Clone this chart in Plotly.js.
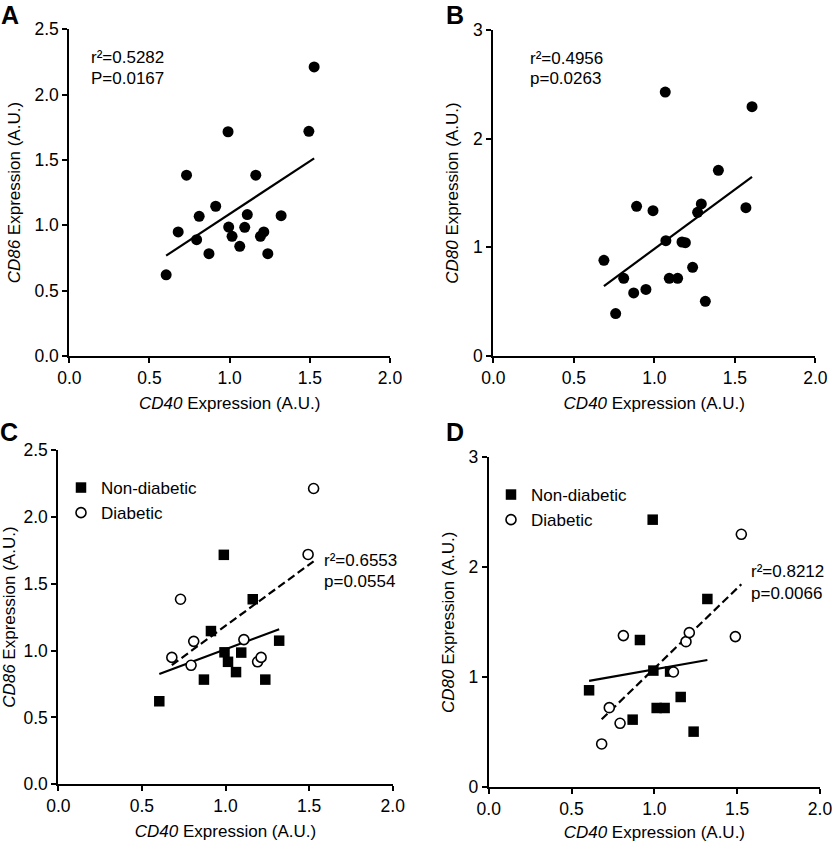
<!DOCTYPE html>
<html>
<head>
<meta charset="utf-8">
<script src="https://cdn.plot.ly/plotly-3.0.1.min.js"></script>
<style>
html,body{margin:0;padding:0;background:#fff;}
#chart{width:832px;height:842px;}
</style>
</head>
<body>
<div id="chart"></div>
<script>
// ---------- data ----------
// Panels A / C : CD40 vs CD86
const nonDiabCD40 = [0.604, 0.871, 0.913, 0.990, 0.994, 1.015, 1.063, 1.094, 1.163, 1.238, 1.321];
const nonDiabCD86 = [0.621, 0.783, 1.146, 1.716, 0.987, 0.916, 0.839, 0.985, 1.384, 0.783, 1.074];
const diabCD40    = [0.679, 0.731, 0.794, 0.810, 1.110, 1.192, 1.213, 1.494, 1.527];
const diabCD86    = [0.949, 1.384, 0.890, 1.069, 1.082, 0.916, 0.949, 1.719, 2.212];

// Panel B : CD40 vs CD80 (all samples, as drawn)
const allCD40_B = [0.687, 0.760, 0.810, 0.872, 0.890, 0.948, 0.992, 1.068, 1.072, 1.093,
                   1.145, 1.172, 1.193, 1.238, 1.269, 1.292, 1.317, 1.398, 1.569, 1.607];
const allCD80_B = [0.880, 0.390, 0.715, 0.580, 1.377, 0.613, 1.337, 2.429, 1.061, 0.715,
                   0.715, 1.049, 1.043, 0.816, 1.322, 1.399, 0.503, 1.709, 1.365, 2.294];

// Panel D : CD40 vs CD80 by group
const nonDiabCD40_D = [0.606, 0.869, 0.913, 0.990, 0.994, 1.014, 1.062, 1.095, 1.159, 1.237, 1.320];
const nonDiabCD80_D = [0.882, 0.615, 1.339, 2.433, 1.061, 0.721, 0.721, 1.052, 0.821, 0.506, 1.712];
const diabCD40_D    = [0.682, 0.728, 0.793, 0.813, 1.115, 1.191, 1.211, 1.489, 1.525];
const diabCD80_D    = [0.394, 0.724, 0.582, 1.379, 1.048, 1.324, 1.406, 1.370, 2.300];

// statistics text
const statsA = ['0.5282', '0.0167'];
const statsB = ['0.4956', '0.0263'];
const statsC = ['0.6553', '0.0554'];
const statsD = ['0.8212', '0.0066'];

const groupNames = ['Non-diabetic', 'Diabetic'];
const xTickVals = [0, 0.5, 1.0, 1.5, 2.0];
const yTickVals86 = [0, 0.5, 1.0, 1.5, 2.0, 2.5];
const yTickVals80 = [0, 1, 2, 3];

// ---------- helpers ----------
const W = 832, H = 842;
const fx = p => p / W;
const fy = p => 1 - p / H;
const FONT = 'Liberation Sans, Arial, Helvetica, sans-serif';

function fitLine(xs, ys) {
  const n = xs.length;
  const mx = xs.reduce((a, b) => a + b, 0) / n;
  const my = ys.reduce((a, b) => a + b, 0) / n;
  let sxy = 0, sxx = 0;
  for (let i = 0; i < n; i++) { sxy += (xs[i] - mx) * (ys[i] - my); sxx += (xs[i] - mx) ** 2; }
  const b = sxy / sxx, a = my - b * mx;
  const x0 = Math.min(...xs), x1 = Math.max(...xs);
  return { x: [x0, x1], y: [a + b * x0, a + b * x1] };
}

const filledDot = { symbol: 'circle', size: 11, color: '#000' };
const filledSq  = { symbol: 'square', size: 10.5, color: '#000' };
const openDot   = { symbol: 'circle', size: 10, color: '#fff', line: { color: '#000', width: 1.6 } };

const traces = [];
function addLine(fit, xa, ya, dash) {
  traces.push({ type: 'scatter', mode: 'lines', x: fit.x, y: fit.y, xaxis: xa, yaxis: ya,
    line: { color: '#000', width: 2.2, dash: dash || 'solid' }, showlegend: false, hoverinfo: 'skip' });
}

// Panel A
const allCD40_A = nonDiabCD40.concat(diabCD40);
const allCD86_A = nonDiabCD86.concat(diabCD86);
addLine(fitLine(allCD40_A, allCD86_A), 'x', 'y');
traces.push({ type: 'scatter', mode: 'markers', x: allCD40_A, y: allCD86_A, xaxis: 'x', yaxis: 'y',
  marker: filledDot, showlegend: false, cliponaxis: false });

// Panel B
addLine(fitLine(allCD40_B, allCD80_B), 'x2', 'y2');
traces.push({ type: 'scatter', mode: 'markers', x: allCD40_B, y: allCD80_B, xaxis: 'x2', yaxis: 'y2',
  marker: filledDot, showlegend: false, cliponaxis: false });

// Panel C
addLine(fitLine(nonDiabCD40, nonDiabCD86), 'x3', 'y3');
addLine(fitLine(diabCD40, diabCD86), 'x3', 'y3', '8px,4px');
traces.push({ type: 'scatter', mode: 'markers', name: groupNames[0], x: nonDiabCD40, y: nonDiabCD86,
  xaxis: 'x3', yaxis: 'y3', marker: filledSq, legend: 'legend', cliponaxis: false });
traces.push({ type: 'scatter', mode: 'markers', name: groupNames[1], x: diabCD40, y: diabCD86,
  xaxis: 'x3', yaxis: 'y3', marker: openDot, legend: 'legend', cliponaxis: false });

// Panel D
addLine(fitLine(nonDiabCD40_D, nonDiabCD80_D), 'x4', 'y4');
addLine(fitLine(diabCD40_D, diabCD80_D), 'x4', 'y4', '8px,4px');
traces.push({ type: 'scatter', mode: 'markers', name: groupNames[0], x: nonDiabCD40_D, y: nonDiabCD80_D,
  xaxis: 'x4', yaxis: 'y4', marker: filledSq, legend: 'legend2', cliponaxis: false });
traces.push({ type: 'scatter', mode: 'markers', name: groupNames[1], x: diabCD40_D, y: diabCD80_D,
  xaxis: 'x4', yaxis: 'y4', marker: openDot, legend: 'legend2', cliponaxis: false });

// ---------- axes ----------
const axisBase = {
  showline: true, linecolor: '#000', linewidth: 2,
  ticks: 'outside', ticklen: 5, tickwidth: 2, tickcolor: '#000',
  showgrid: false, zeroline: false, fixedrange: true,
  ticklabeloverflow: 'allow',
  tickfont: { size: 17.5, color: '#000' }
};
function xAxis(p0, p1, anchor) {
  return Object.assign({}, axisBase, {
    domain: [fx(p0), fx(p1)], anchor: anchor, range: [0, 2],
    tickmode: 'array', tickvals: xTickVals, ticktext: xTickVals.map(v => v.toFixed(1)),
    title: { text: '<i>CD40</i> Expression (A.U.)', font: { size: 17, color: '#000' }, standoff: 10 }
  });
}
function yAxis(top, bottom, anchor, gene, tickvals, max, dec) {
  return Object.assign({}, axisBase, {
    domain: [fy(bottom), fy(top)], anchor: anchor, range: [0, max],
    tickmode: 'array', tickvals: tickvals, ticktext: tickvals.map(v => v.toFixed(dec)),
    title: { text: '<i>' + gene + '</i> Expression (A.U.)', font: { size: 17, color: '#000' }, standoff: 10 }
  });
}

function statLine(px, py, text) {
  return { xref: 'paper', yref: 'paper', x: fx(px), y: fy(py), xanchor: 'left', yanchor: 'middle',
    align: 'left', showarrow: false, font: { size: 17, color: '#000' }, text: text };
}
function statAnns(px, py1, py2, s, pLetter) {
  return [statLine(px, py1, 'r\u00B2=' + s[0]), statLine(px, py2, pLetter + '=' + s[1])];
}
function letterAnn(px, py, t) {
  return { xref: 'paper', yref: 'paper', x: fx(px), y: fy(py), xanchor: 'center', yanchor: 'top',
    showarrow: false, borderpad: 0, text: '<b>' + t + '</b>', font: { size: 25, color: '#000' } };
}

const layout = {
  width: W, height: H,
  margin: { l: 0, r: 0, t: 0, b: 0, pad: 0 },
  paper_bgcolor: '#fff', plot_bgcolor: 'rgba(0,0,0,0)',
  font: { family: FONT, color: '#000', size: 17 },
  xaxis:  xAxis(69.3, 390, 'y'),
  yaxis:  yAxis(29.3, 356, 'x', 'CD86', yTickVals86, 2.5, 1),
  xaxis2: xAxis(493.3, 815.3, 'y2'),
  yaxis2: yAxis(30, 356, 'x2', 'CD80', yTickVals80, 3, 0),
  xaxis3: xAxis(58.3, 392.7, 'y3'),
  yaxis3: yAxis(450, 784.3, 'x3', 'CD86', yTickVals86, 2.5, 1),
  xaxis4: xAxis(488.7, 820, 'y4'),
  yaxis4: yAxis(457.3, 787.3, 'x4', 'CD80', yTickVals80, 3, 0),
  legend:  { x: fx(61), y: fy(470), xanchor: 'left', yanchor: 'top', bgcolor: 'rgba(0,0,0,0)',
             font: { size: 17, color: '#000' }, itemwidth: 30, tracegroupgap: 0, traceorder: 'normal' },
  legend2: { x: fx(491), y: fy(477), xanchor: 'left', yanchor: 'top', bgcolor: 'rgba(0,0,0,0)',
             font: { size: 17, color: '#000' }, itemwidth: 30, tracegroupgap: 0, traceorder: 'normal' },
  annotations: [].concat(
    statAnns(89, 57.8, 78.3, statsA, 'P'),
    statAnns(527.5, 58.3, 78.8, statsB, 'p'),
    statAnns(322, 560, 581.7, statsC, 'p'),
    statAnns(748.5, 571.7, 593.3, statsD, 'p'),
    [letterAnn(10, 0, 'A'), letterAnn(455, 0, 'B'), letterAnn(9, 417, 'C'), letterAnn(455, 417, 'D')]
  ),
  showlegend: true
};

Plotly.newPlot('chart', traces, layout, { staticPlot: true, displayModeBar: false });
</script>
</body>
</html>
